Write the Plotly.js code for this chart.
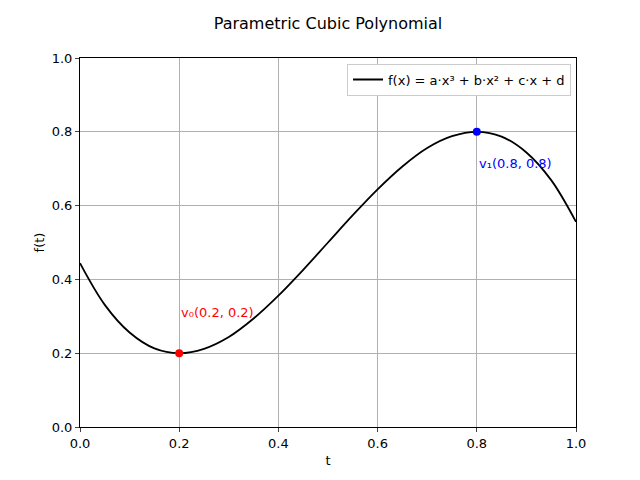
<!DOCTYPE html>
<html>
<head>
<meta charset="utf-8">
<script src="https://cdn.plot.ly/plotly-3.0.1.min.js"></script>
<style>body{margin:0}</style>
</head>
<body>
<div id="chart" style="width:640px;height:480px"></div>
<script>
// curve values
const tValues = [0, 0.05, 0.1, 0.15, 0.2, 0.25, 0.3, 0.35, 0.4, 0.45, 0.5,
                 0.55, 0.6, 0.65, 0.7, 0.75, 0.8, 0.85, 0.9, 0.95, 1.0];
const fValues = [0.444, 0.331, 0.256, 0.213, 0.2, 0.212, 0.244, 0.294, 0.356, 0.426, 0.5,
                 0.574, 0.644, 0.706, 0.756, 0.788, 0.8, 0.787, 0.744, 0.669, 0.556];
const v0 = [0.2, 0.2];
const v1 = [0.8, 0.8];

const font = {family: "DejaVu Sans", size: 13, color: "black"};

let curve = {
    x: tValues, y: fValues, mode: 'lines', type: 'scatter',
    line: {color: 'black', width: 1.8, shape: 'spline'},
    name: 'f(x) = a·x³ + b·x² + c·x + d'
};
let p0 = {x: [v0[0]], y: [v0[1]], mode: 'markers', marker: {color: 'red', size: 8}, showlegend: false};
let p1 = {x: [v1[0]], y: [v1[1]], mode: 'markers', marker: {color: 'blue', size: 8}, showlegend: false};

let axis = {
    range: [0, 1], dtick: 0.2, tickformat: '.1f', showgrid: true, gridcolor: '#b0b0b0',
    zeroline: false, showline: true, mirror: true, linecolor: 'black', ticks: 'outside',
    ticklen: 4, tickfont: font
};

let layout = {
    width: 640, height: 480,
    margin: {l: 80, r: 64, t: 58, b: 53},
    paper_bgcolor: 'white', plot_bgcolor: 'white',
    font: font,
    title: {text: 'Parametric Cubic Polynomial', font: {family: "DejaVu Sans", size: 16}, x: 0.5, xref: 'paper',
            y: 1.015, yref: 'paper', yanchor: 'bottom'},
    xaxis: {...axis, title: {text: 't', font: font, standoff: 6}},
    yaxis: {...axis, title: {text: 'f(t)', font: font}},
    legend: {x: 0.99, y: 0.985, xanchor: 'right', yanchor: 'top', bordercolor: '#cccccc', borderwidth: 1, bgcolor: 'white', font: font},
    showlegend: true,
    annotations: [
        {x: v0[0], y: v0[1] + 0.11, text: 'v₀(0.2, 0.2)', showarrow: false, xanchor: 'left', yanchor: 'middle', font: {...font, color: 'red'}},
        {x: v1[0], y: v1[1] - 0.085, text: 'v₁(0.8, 0.8)', showarrow: false, xanchor: 'left', yanchor: 'middle', font: {...font, color: 'blue'}}
    ]
};

Plotly.newPlot('chart', [curve, p0, p1], layout, {staticPlot: true});
</script>
</body>
</html>
